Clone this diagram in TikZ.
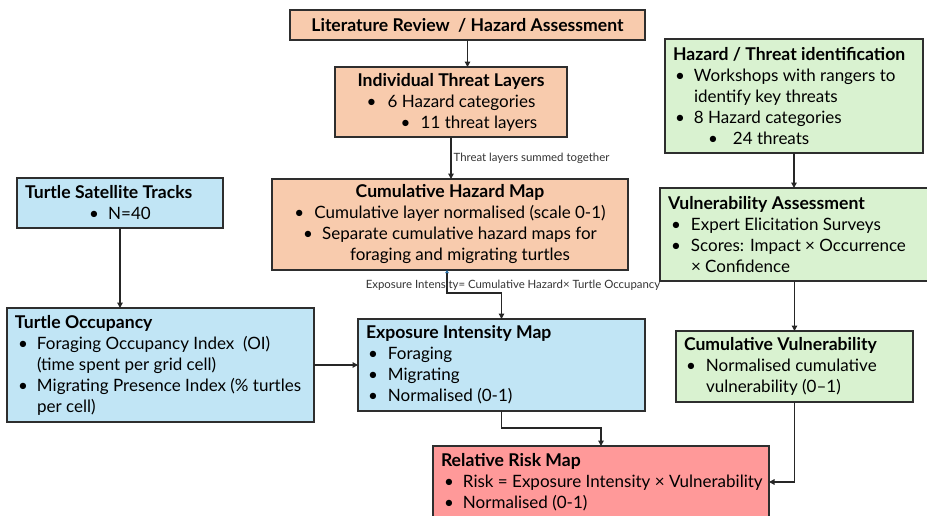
\documentclass[tikz,border=0pt]{standalone}
\usepackage{fontspec}
\setmainfont{Lato}
\usetikzlibrary{arrows.meta}
\definecolor{peach}{HTML}{F8CBAD}
\definecolor{skyb}{HTML}{C1E5F5}
\definecolor{mint}{HTML}{D9F2D0}
\definecolor{rose}{HTML}{FF9999}
\definecolor{edgec}{HTML}{2E2E2E}
\definecolor{tipblue}{HTML}{2A6FA8}
\tikzset{
 box/.style={draw=edgec, line width=1.3pt, anchor=north west, inner sep=0pt, outer sep=0pt},
 conn/.style={line width=1.3pt, draw=black!85, -{Triangle[length=5.5pt,width=5.5pt]}},
 lbl/.style={font=\fontsize{11.4}{13}\selectfont, text=black!80, inner sep=0pt},
}
\newcommand{\ttl}[1]{{\fontsize{17.6}{21}\selectfont\bfseries #1}}
\newcommand{\nl}{\hfil\break}
\newcommand{\bxl}[2]{\makebox[#1][l]{\parbox{\dimexpr#1+40pt\relax}{\fontsize{17}{21}\selectfont\raggedright #2}}}
\newcommand{\bxc}[2]{\parbox{#1}{\fontsize{17}{21}\selectfont\centering #2}}
\newcommand{\bline}[3]{\par\hangindent=#2\hangafter=1\noindent\hspace*{#1}\makebox[\dimexpr#2-#1\relax][l]{\textbullet}#3}
\newcommand{\cbul}[2]{\makebox[#1][l]{\textbullet}#2}
\begin{document}
\begin{tikzpicture}[x=1pt,y=-1pt]
\useasboundingbox (0,0) rectangle (927,515);
\clip (0,0) rectangle (927,515);

% orange column
\node[box, fill=peach, minimum width=355, minimum height=30] (lit) at (290,10)
 {\bxc{345pt}{\ttl{Literature Review\ \ / Hazard Assessment}}};
\node[box, fill=peach, minimum width=232, minimum height=70] (indiv) at (335,67)
 {\bxc{226pt}{\ttl{Individual Threat Layers}\par
   \cbul{21pt}{6 Hazard categories}\par
   \hspace*{36pt}\cbul{20pt}{11 threat layers}}};
\node[box, fill=peach, minimum width=356, minimum height=91] (cumhaz) at (272,179)
 {\bxc{350pt}{\ttl{Cumulative Hazard Map}\par
   \cbul{20pt}{Cumulative layer normalised (scale 0-1)}\par
   \cbul{19pt}{Separate cumulative hazard maps for}\par
   \hspace*{20pt}foraging and migrating turtles}};

% blue
\node[box, fill=skyb, minimum width=206, minimum height=50] (sat) at (17,178)
 {\bxl{190pt}{\ttl{Turtle Satellite Tracks}\par
   \makebox[190pt][c]{\cbul{19pt}{N=40}}}};
\node[box, fill=skyb, minimum width=307, minimum height=114] (occ) at (7,308)
 {\bxl{291pt}{\ttl{Turtle Occupancy}
   \bline{3pt}{22pt}{Foraging Occupancy Index\ \ (OI)\nl(time spent per grid cell)}
   \bline{3pt}{22pt}{Migrating Presence Index (\% turtles\nl per cell)}}};
\node[box, fill=skyb, minimum width=287, minimum height=92] (exp) at (358,319)
 {\bxl{271pt}{\ttl{Exposure Intensity Map}
   \bline{2pt}{22pt}{Foraging}
   \bline{2pt}{22pt}{Migrating}
   \bline{2pt}{22pt}{Normalised (0-1)}}};

% green
\node[box, fill=mint, minimum width=258, minimum height=114] (hazid) at (665,39)
 {\bxl{242pt}{\ttl{Hazard / Threat identification}
   \bline{2pt}{21pt}{Workshops with rangers to\nl identify key threats}
   \bline{2pt}{21pt}{8 Hazard categories}
   \bline{35pt}{60pt}{24 threats}}};
\node[box, fill=mint, minimum width=275, minimum height=93] (vuln) at (660,188)
 {\bxl{259pt}{\ttl{Vulnerability Assessment}
   \bline{3pt}{23pt}{Expert Elicitation Surveys}
   \bline{3pt}{23pt}{Scores: Impact × Occurrence\nl × Confidence}}};
\node[box, fill=mint, minimum width=237, minimum height=71] (cumvuln) at (676,331)
 {\bxl{221pt}{\ttl{Cumulative Vulnerability}
   \bline{2pt}{22pt}{Normalised cumulative\nl vulnerability (0–1)}}};

% red
\node[box, fill=rose, minimum width=336, minimum height=72] (risk) at (433,446)
 {\bxl{320pt}{\ttl{Relative Risk Map}
   \bline{3pt}{22pt}{Risk = Exposure Intensity × Vulnerability}
   \bline{3pt}{22pt}{Normalised (0-1)}}};

% connectors
\draw[conn] (lit.south) -- (lit.south |- indiv.north);
\draw[conn] (indiv.south) -- node[lbl, anchor=west, xshift=2pt] (sumlbl) {Threat layers summed together} (indiv.south |- cumhaz.north);
\draw[conn] (sat.south) -- (sat.south |- occ.north);
\draw[conn] (occ.east) -- (exp.west);
\draw[line width=1.3pt, draw=black!85, {Triangle[length=3pt,width=3.5pt,color=tipblue]}-{Triangle[length=5.5pt,width=5.5pt]}]
  ([xshift=-3pt]cumhaz.south) -- ++(0,23) -| (exp.north);
\node[lbl] (eqlbl) at (513,285) {Exposure Intensity= Cumulative Hazard× Turtle Occupancy};
\draw[conn] (exp.south) -- ++(0,17) -| (risk.north);
\draw[conn] (hazid.south) -- (hazid.south |- vuln.north);
\draw[conn] (cumvuln.north |- vuln.south) -- (cumvuln.north);
\draw[conn] (cumvuln.south) |- (risk.east);
\end{tikzpicture}
\end{document}
